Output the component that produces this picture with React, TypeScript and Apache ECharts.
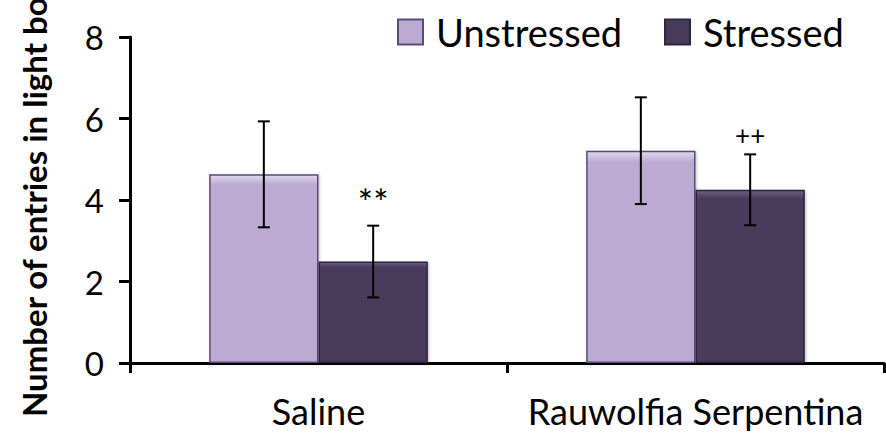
import React, { useEffect, useRef } from "react";
import * as echarts from "echarts";

const categories = ["Saline", "Rauwolfia Serpentina"];
const seriesNames = ["Unstressed", "Stressed"];
const unstressed = [4.63, 5.21];
const stressed = [2.49, 4.25];
const unstressedErr = [1.3, 1.31];
const stressedErr = [0.88, 0.87];
const stressedMarks = ["**", "++"];
const yTicks = [0, 2, 4, 6, 8];
const yTitle = "Number of entries in light box";

const FONT = "Lato, 'Open Sans', sans-serif";
const GAP = 0.42;
const markFontSize: Record<string, number> = { "**": 36, "++": 26 };

export default function App() {
  const ref = useRef<HTMLDivElement>(null);
  useEffect(() => {
    document.body.style.margin = "0";
    if (!ref.current) return;
    const chart = echarts.init(ref.current, null, { renderer: "svg" });
    const half = (1 - GAP) / 4;

    const errData = [
      ...unstressed.map((v, i) => [i, v, unstressedErr[i], -1, 0]),
      ...stressed.map((v, i) => [i, v, stressedErr[i], 1, 1]),
    ];

    const renderErr = (params: any, api: any) => {
      const ci = api.value(0);
      const v = api.value(1);
      const e = api.value(2);
      const side = api.value(3);
      const isStressed = api.value(4) === 1;
      const cw = api.size([1, 0])[0];
      const c = api.coord([ci, v]);
      const x = c[0] + side * cw * half;
      const top = api.coord([ci, v + e])[1];
      const bot = api.coord([ci, v - e])[1];
      const cap = 6;
      const st = { stroke: "#000", lineWidth: 2 };
      const children: any[] = [
        { type: "line", shape: { x1: x, y1: top, x2: x, y2: bot }, style: st },
        { type: "line", shape: { x1: x - cap, y1: top, x2: x + cap, y2: top }, style: st },
        { type: "line", shape: { x1: x - cap, y1: bot, x2: x + cap, y2: bot }, style: st },
      ];
      if (isStressed) {
        const m = stressedMarks[ci];
        children.push({
          type: "text",
          x: x,
          y: top - 6,
          style: {
            text: m,
            fontFamily: FONT,
            fontSize: markFontSize[m] || 28,
            fill: "#000",
            textAlign: "center",
            textVerticalAlign: "bottom",
          },
        });
      }
      return { type: "group", children };
    };

    const grad = (light: string, base: string) =>
      new echarts.graphic.LinearGradient(0, 0, 0, 1, [
        { offset: 0, color: light },
        { offset: 0.05, color: base },
        { offset: 1, color: base },
      ]);

    chart.setOption({
      animation: false,
      backgroundColor: "#fff",
      grid: { left: 130, right: 2, top: 37, bottom: 77, containLabel: false },
      legend: {
        left: 392,
        top: 8,
        itemWidth: 25,
        itemHeight: 25,
        itemGap: 42,
        icon: "rect",
        data: seriesNames,
        textStyle: {
          fontFamily: FONT,
          fontSize: 38,
          color: "#000",
          padding: [0, 0, 0, 8],
        },
      },
      xAxis: {
        type: "category",
        data: categories,
        axisLine: { lineStyle: { color: "#000", width: 3 } },
        axisTick: { show: true, length: 10, lineStyle: { color: "#000", width: 3 } },
        axisLabel: { fontFamily: FONT, fontSize: 36, color: "#000", margin: 30, interval: 0 },
      },
      yAxis: {
        type: "value",
        min: yTicks[0],
        max: yTicks[yTicks.length - 1],
        interval: 2,
        splitLine: { show: false },
        axisLine: { show: true, lineStyle: { color: "#000", width: 3 } },
        axisTick: { show: true, length: 11, lineStyle: { color: "#000", width: 3 } },
        axisLabel: { fontFamily: FONT, fontSize: 33, color: "#000", margin: 26 },
      },
      graphic: [
        {
          type: "text",
          x: 34,
          y: 417,
          rotation: Math.PI / 2,
          style: {
            text: yTitle,
            fontFamily: FONT,
            fontWeight: "bold",
            fontSize: 33,
            fill: "#000",
            textAlign: "left",
            textVerticalAlign: "middle",
          },
        },
      ],
      series: [
        {
          name: seriesNames[0],
          type: "bar",
          data: unstressed,
          barGap: "0%",
          barCategoryGap: GAP * 100 + "%",
          itemStyle: {
            color: grad("#E2D8EE", "#BDAAD3"),
            borderColor: "#5B4A75",
            borderWidth: 1.5,
            shadowBlur: 3,
            shadowColor: "rgba(0,0,0,0.25)",
            shadowOffsetX: 1,
            shadowOffsetY: 1,
          },
        },
        {
          name: seriesNames[1],
          type: "bar",
          data: stressed,
          barGap: "0%",
          barCategoryGap: GAP * 100 + "%",
          itemStyle: {
            color: grad("#6E5E85", "#483A5B"),
            borderColor: "#2E2440",
            borderWidth: 1.5,
            shadowBlur: 3,
            shadowColor: "rgba(0,0,0,0.25)",
            shadowOffsetX: 1,
            shadowOffsetY: 1,
          },
        },
        {
          type: "custom",
          renderItem: renderErr,
          data: errData,
          z: 10,
          silent: true,
        },
      ],
    });
    return () => chart.dispose();
  }, []);
  return <div ref={ref} style={{ width: 886, height: 440 }} />;
}
